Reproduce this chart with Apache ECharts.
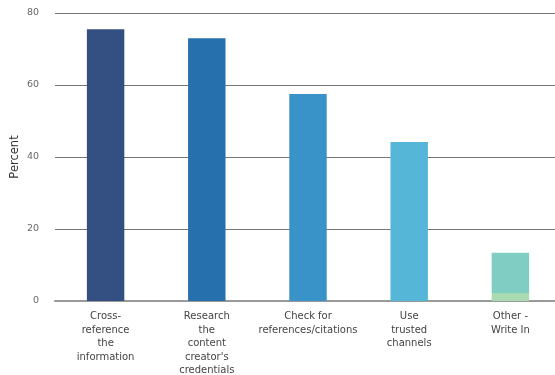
<!DOCTYPE html>
<html>
<head>
<meta charset="utf-8">
<script src="https://cdn.jsdelivr.net/npm/echarts@6/dist/echarts.min.js"></script>
<style>
  html, body { margin: 0; padding: 0; background: #fff; }
  #chart { width: 555px; height: 375px; }
</style>
</head>
<body>
<div id="chart"></div>
<script>
// Verification methods (percent of respondents)
const categories = [
  'Cross-\nreference\nthe\ninformation',
  'Research\nthe\ncontent\ncreator\'s\ncredentials',
  'Check for\nreferences/citations',
  'Use\ntrusted\nchannels',
  'Other -\nWrite In'
];
const mainValues = [75.5, 73, 57.5, 44.2, 11.2];
const baseValues = [0, 0, 0, 0, 2.2];
const barColors = ['#344f82', '#2670ad', '#3993c8', '#56b6d8', '#80cdc4'];
const baseColor = '#a9dab2';
const yTicks = { min: 0, max: 80, interval: 20 };

const chart = echarts.init(document.getElementById('chart'));
chart.setOption({
  animation: false,
  grid: { left: 55, right: -6, top: 13, bottom: 74, outerBoundsMode: 'none', containLabel: false },
  xAxis: {
    type: 'category',
    data: categories,
    axisTick: { show: false },
    axisLine: { lineStyle: { color: '#999', width: 2 } },
    axisLabel: {
      color: '#444',
      fontFamily: 'DejaVu Sans',
      fontSize: 10,
      lineHeight: 13.5,
      margin: 9,
      interval: 0
    }
  },
  yAxis: {
    type: 'value',
    min: yTicks.min,
    max: yTicks.max,
    interval: yTicks.interval,
    name: 'Percent',
    nameLocation: 'middle',
    nameGap: 34,
    nameMoveOverlap: false,
    nameTextStyle: { color: '#333', fontFamily: 'DejaVu Sans', fontSize: 11.5 },
    axisLine: { show: false },
    axisTick: { show: false },
    axisLabel: { color: '#666', fontFamily: 'DejaVu Sans', fontSize: 9.5, margin: 16 },
    splitLine: { lineStyle: { color: '#777', width: 1 } }
  },
  series: [
    {
      type: 'bar',
      stack: 'total',
      barWidth: '37%',
      data: baseValues,
      itemStyle: { color: baseColor }
    },
    {
      type: 'bar',
      stack: 'total',
      barWidth: '37%',
      data: mainValues.map((v, i) => ({ value: v, itemStyle: { color: barColors[i] } }))
    }
  ]
});
</script>
</body>
</html>
